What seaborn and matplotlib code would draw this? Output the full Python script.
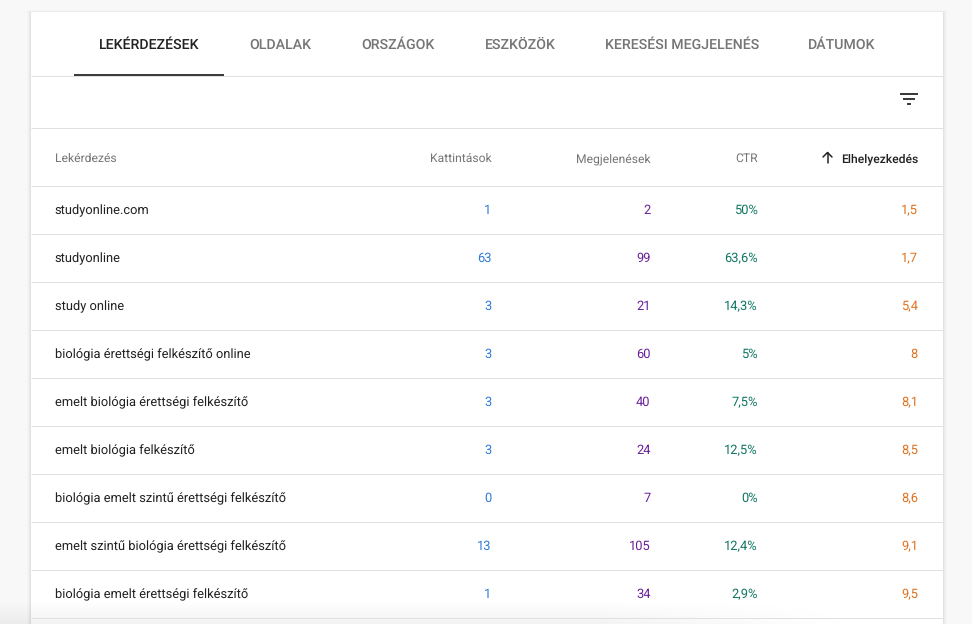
import matplotlib
matplotlib.use("Agg")
import matplotlib.pyplot as plt
import numpy as np
import seaborn as sns
from matplotlib.patches import Rectangle

tabs = ["LEKÉRDEZÉSEK", "OLDALAK", "ORSZÁGOK", "ESZKÖZÖK", "KERESÉSI MEGJELENÉS", "DÁTUMOK"]
headers = ["Lekérdezés", "Kattintások", "Megjelenések", "CTR", "Elhelyezkedés"]
queries = ["studyonline.com", "studyonline", "study online",
           "biológia érettségi felkészítő online", "emelt biológia érettségi felkészítő",
           "emelt biológia felkészítő", "biológia emelt szintű érettségi felkészítő",
           "emelt szintű biológia érettségi felkészítő", "biológia emelt érettségi felkészítő"]
clicks = ["1", "63", "3", "3", "3", "3", "0", "13", "1"]
impressions = ["2", "99", "21", "60", "40", "24", "7", "105", "34"]
ctr = ["50%", "63,6%", "14,3%", "5%", "7,5%", "12,5%", "0%", "12,4%", "2,9%"]
position = ["1,5", "1,7", "5,4", "8", "8,1", "8,5", "8,6", "9,1", "9,5"]

sns.set_theme(style="white")
plt.rcParams["font.family"] = ["Roboto", "DejaVu Sans"]
plt.rcParams["text.hinting"] = "no_hinting"

W, H = 972, 624
fig = plt.figure(figsize=(W / 100, H / 100), dpi=100, facecolor="#f8f8f8")
ax = fig.add_axes([0, 0, 1, 1])
ax.axis("off")
sns.despine(ax=ax, left=True, bottom=True)

px = 100 / 72  # text sizes below are given in pixels
CARD_L, CARD_R, CARD_T = 31, 943, 12
LINE = "#e0e0e0"

# card shadow
for grow, alpha in [(4, .012), (3, .016), (2, .022), (1, .035)]:
    ax.add_patch(Rectangle((CARD_L - grow, CARD_T - grow / 2), CARD_R - CARD_L + 2 * grow, H,
                           fc="black", ec="none", alpha=alpha, zorder=1))
ax.add_patch(Rectangle((CARD_L, CARD_T), CARD_R - CARD_L, H, fc="white", ec="none", zorder=2))

# soft fade at the bottom of the picture, dying out towards the right
vert = np.linspace(0, 1, 24)[:, None]
horiz = np.clip((860 - np.linspace(0, W, 243)) / 260, 0, 1)[None, :]
fade = np.zeros((24, 243, 4))
fade[..., 3] = .05 * vert * horiz
ax.imshow(fade, extent=(0, W, H, H - 24), aspect="auto", zorder=3)
ax.set_xlim(0, W)
ax.set_ylim(H, 0)

# tabs
tab_x = [99, 249.5, 361.5, 484.5, 604.5, 808]
for i, (t, x) in enumerate(zip(tabs, tab_x)):
    ax.text(x, 49, t, fontsize=14.1 / px, fontweight="medium", ha="left", va="baseline",
            color="#212121" if i == 0 else "#757575", zorder=5)
ax.add_patch(Rectangle((74, 74), 150, 2, fc="#3c3c3c", ec="none", zorder=6))

# rules
first_row, row_h, n = 186, 48, len(queries)
rule_y = [76, 128] + [first_row + i * row_h for i in range(n + 1)]
ax.hlines(rule_y, CARD_L, CARD_R, color=LINE, lw=1 / px, zorder=4)

# filter icon
for y, x0, x1 in [(93.5, 899.5, 917.5), (98.5, 902.5, 914.5), (103.5, 906.5, 910.5)]:
    ax.plot([x0, x1], [y, y], color="#3c3c3c", lw=2 / px, solid_capstyle="butt", zorder=5)

# column headers
col_x = [54.5, 491.5, 650.5, 757.5, 918]
col_ha = ["left", "right", "right", "right", "right"]
for i, (h, x, ha) in enumerate(zip(headers, col_x, col_ha)):
    last = i == len(headers) - 1
    ax.text(x, 162, h, fontsize=12.1 / px, fontweight="medium" if last else "normal",
            ha=ha, va="baseline", color="#212121" if last else "#757575", zorder=5)
# sort arrow
ax.plot([827.5, 827.5], [152.5, 163], color="#212121", lw=1.5 / px, zorder=5)
ax.plot([823, 827.5, 832], [157, 152.5, 157], color="#212121", lw=1.5 / px, zorder=5)

# rows
columns = [queries, clicks, impressions, ctr, position]
colors = ["#212121", "#2e7bd6", "#6a1f9a", "#0f7561", "#e0711d"]
for values, x, ha, c in zip(columns, col_x, col_ha, colors):
    for r, v in enumerate(values):
        ax.text(x, first_row + (r + .5) * row_h + 4, v, fontsize=12.9 / px,
                ha=ha, va="baseline", color=c, zorder=5)

fig.savefig("out.png", dpi=100, facecolor=fig.get_facecolor())
